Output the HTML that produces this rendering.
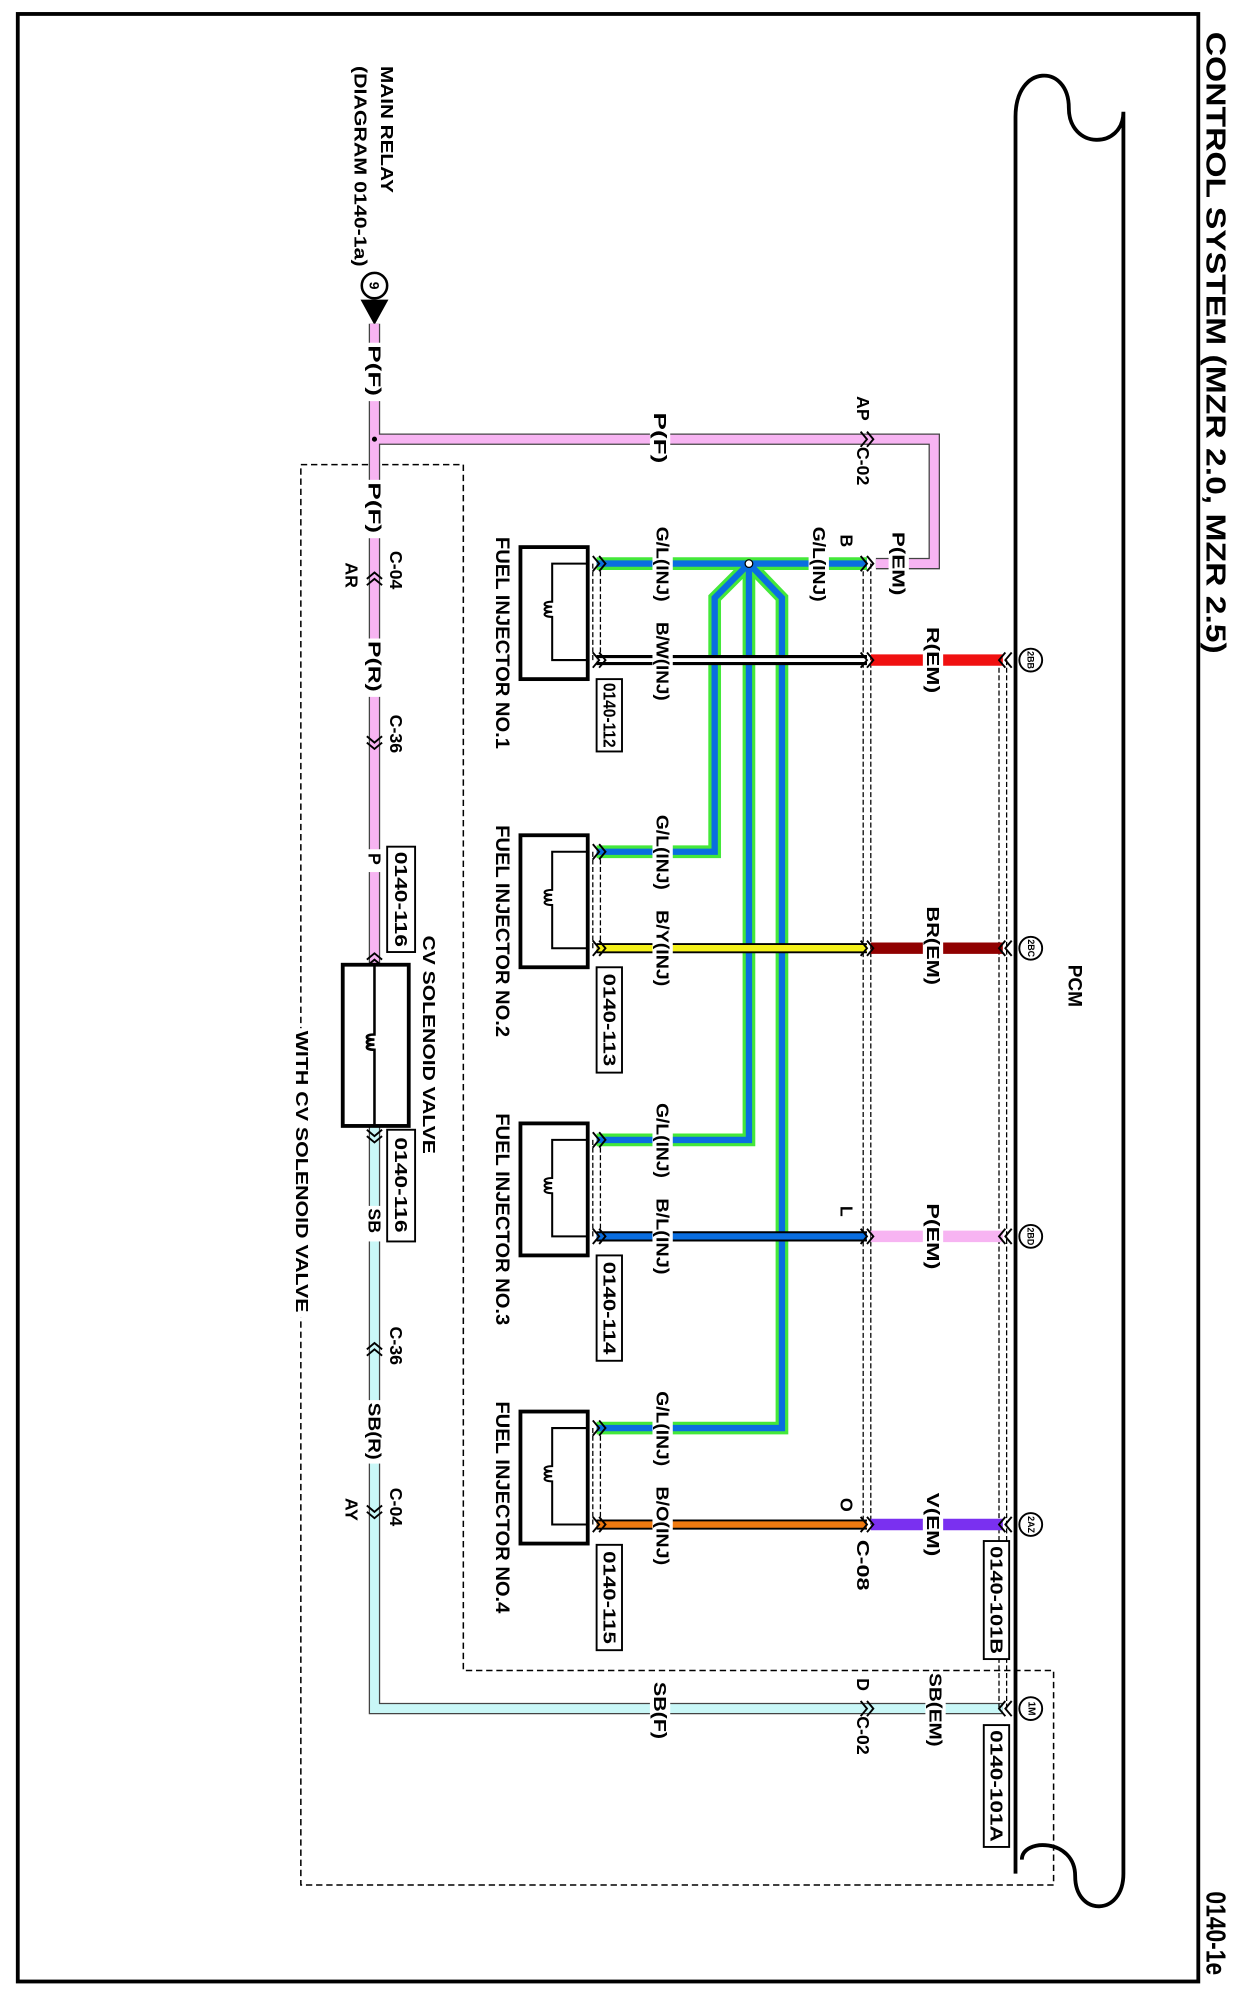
<!DOCTYPE html>
<html><head><meta charset="utf-8"><style>
html,body{margin:0;padding:0;background:#fff;}
svg{display:block;}
text{font-family:"Liberation Sans",Arial,sans-serif;font-weight:bold;fill:#000;dominant-baseline:central;}
</style></head><body>
<svg width="1244" height="1998" viewBox="0 0 980 1574" preserveAspectRatio="none" xmlns="http://www.w3.org/2000/svg">
<rect x="0" y="0" width="980" height="1574" fill="#fff"/>
<rect x="14" y="11" width="930" height="1550" fill="none" stroke="#000" stroke-width="3"/>
<text x="958" y="25" font-size="22" font-weight="normal" transform="rotate(90 958 25)" textLength="490" lengthAdjust="spacingAndGlyphs">CONTROL SYSTEM (MZR 2.0, MZR 2.5)</text>
<text x="958" y="1490" font-size="22" font-weight="normal" transform="rotate(90 958 1490)" textLength="66" lengthAdjust="spacingAndGlyphs">0140-1e</text>

<path d="M800,1476 L800,92 C800,50 842,50 842,85 C842,118 885,118 885,88 L885,1476 C885,1510 847,1510 847,1478 C847,1448 805,1448 805,1465" fill="none" stroke="#000" stroke-width="3"/>
<text x="846" y="760" font-size="15" transform="rotate(90 846 760)">PCM</text>

<path d="M237,366 L365,366 L365,1316 L830,1316 L830,1485 L237,1485 Z" fill="none" stroke="#000" stroke-width="1.2" stroke-dasharray="5,3"/>
<rect x="228" y="810" width="20" height="228" fill="#fff"/>
<text x="238" y="812" font-size="14" transform="rotate(90 238 812)" textLength="222" lengthAdjust="spacingAndGlyphs">WITH CV SOLENOID VALVE</text>

<text x="305" y="52" font-size="14" transform="rotate(90 305 52)" textLength="100" lengthAdjust="spacingAndGlyphs">MAIN RELAY</text>
<text x="284" y="52" font-size="14" transform="rotate(90 284 52)" textLength="158" lengthAdjust="spacingAndGlyphs">(DIAGRAM 0140-1a)</text>
<circle cx="295" cy="225" r="10" fill="#fff" stroke="#000" stroke-width="2"/>
<text x="295" y="225" font-size="11" text-anchor="middle" transform="rotate(90 295 225)">9</text>
<polygon points="284,236 306,236 295,256" fill="#000"/>

<g fill="none" stroke-linejoin="miter">
<path d="M295,255 L295,760 M295,346 L736,346 L736,444 L690,444" stroke="#444" stroke-width="9"/>
<path d="M295,255 L295,760 M295,346 L736,346 L736,444 L690,444" stroke="#f7b4f2" stroke-width="7"/>
<path d="M295,888 L295,1346 L790,1346" stroke="#444" stroke-width="9"/>
<path d="M295,888 L295,1346 L790,1346" stroke="#c9f7f7" stroke-width="7"/>
</g>
<circle cx="295" cy="346" r="2" fill="#000"/>

<g>
<rect x="288" y="270" width="14" height="46" fill="#fff"/>
<text x="295" y="272" font-size="14" transform="rotate(90 295 272)" textLength="40" lengthAdjust="spacingAndGlyphs">P(F)</text>
<rect x="512" y="338" width="16" height="16" fill="#fff"/>
<text x="520" y="325" font-size="14" transform="rotate(90 520 325)" textLength="40" lengthAdjust="spacingAndGlyphs">P(F)</text>
<text x="680" y="312" font-size="14" transform="rotate(90 680 312)">AP</text>
<text x="680" y="352" font-size="14" transform="rotate(90 680 352)">C-02</text>
<rect x="288" y="378" width="14" height="46" fill="#fff"/>
<text x="295" y="380" font-size="14" transform="rotate(90 295 380)" textLength="40" lengthAdjust="spacingAndGlyphs">P(F)</text>
<text x="312" y="434" font-size="14" transform="rotate(90 312 434)">C-04</text>
<text x="277" y="443" font-size="14" transform="rotate(90 277 443)">AR</text>
<rect x="288" y="503" width="14" height="46" fill="#fff"/>
<text x="295" y="505" font-size="14" transform="rotate(90 295 505)" textLength="40" lengthAdjust="spacingAndGlyphs">P(R)</text>
<text x="312" y="563" font-size="14" transform="rotate(90 312 563)">C-36</text>
<rect x="288" y="669" width="14" height="18" fill="#fff"/>
<text x="295" y="672" font-size="14" transform="rotate(90 295 672)">P</text>
<rect x="305" y="667" width="22" height="83" fill="#fff" stroke="#000" stroke-width="1.5"/>
<text x="316" y="671" font-size="14" transform="rotate(90 316 671)" textLength="75" lengthAdjust="spacingAndGlyphs">0140-116</text>
<text x="338" y="737" font-size="14" transform="rotate(90 338 737)" textLength="172" lengthAdjust="spacingAndGlyphs">CV SOLENOID VALVE</text>
<rect x="305" y="890" width="22" height="88" fill="#fff" stroke="#000" stroke-width="1.5"/>
<text x="316" y="896" font-size="14" transform="rotate(90 316 896)" textLength="75" lengthAdjust="spacingAndGlyphs">0140-116</text>
<rect x="288" y="950" width="14" height="28" fill="#fff"/>
<text x="295" y="952" font-size="14" transform="rotate(90 295 952)">SB</text>
<text x="312" y="1045" font-size="14" transform="rotate(90 312 1045)">C-36</text>
<rect x="288" y="1103" width="14" height="50" fill="#fff"/>
<text x="295" y="1105" font-size="14" transform="rotate(90 295 1105)" textLength="45" lengthAdjust="spacingAndGlyphs">SB(R)</text>
<text x="312" y="1172" font-size="14" transform="rotate(90 312 1172)">C-04</text>
<text x="277" y="1180" font-size="14" transform="rotate(90 277 1180)">AY</text>
<rect x="512" y="1338" width="16" height="16" fill="#fff"/>
<text x="520" y="1325" font-size="14" transform="rotate(90 520 1325)" textLength="45" lengthAdjust="spacingAndGlyphs">SB(F)</text>
<text x="680" y="1322" font-size="14" transform="rotate(90 680 1322)">D</text>
<text x="680" y="1352" font-size="14" transform="rotate(90 680 1352)">C-02</text>
<rect x="729" y="1338" width="16" height="16" fill="#fff"/>
<text x="737" y="1318" font-size="14" transform="rotate(90 737 1318)" textLength="58" lengthAdjust="spacingAndGlyphs">SB(EM)</text>
</g>

<g fill="none" stroke="#000" stroke-width="1.5">
<path d="M678,340 l5,6 l-5,6 M683,340 l5,6 l-5,6"/>
<path d="M678,1340 l5,6 l-5,6 M683,1340 l5,6 l-5,6"/>
<path d="M289,456 l6,-5 l6,5 M289,461 l6,-5 l6,5"/>
<path d="M289,580 l6,5 l6,-5 M289,585 l6,5 l6,-5"/>
<path d="M289,756 l6,-5 l6,5 M289,761 l6,-5 l6,5"/>
<path d="M289,890 l6,5 l6,-5 M289,895 l6,5 l6,-5"/>
<path d="M289,1063 l6,-5 l6,5 M289,1068 l6,-5 l6,5"/>
<path d="M289,1186 l6,5 l6,-5 M289,1191 l6,5 l6,-5"/>
<path d="M792,1340 l-5,6 l5,6 M797,1340 l-5,6 l5,6"/>
</g>

<rect x="270" y="760" width="52" height="127" fill="#fff" stroke="#000" stroke-width="3"/>
<path d="M295,760 L295,815 c-8,0 -8,4 0,4 c-8,0 -8,4 0,4 c-8,0 -8,4 0,4 L295,887" fill="none" stroke="#000" stroke-width="2"/>

<g stroke="#000" stroke-width="1" stroke-dasharray="4,2" fill="none">
<path d="M680,444 L680,1201 M686,444 L686,1201"/>
<path d="M787,520 L787,1346 M793,520 L793,1346"/>
<path d="M467,444 L467,520 M473,444 L473,520"/>
<path d="M467,671 L467,747 M473,671 L473,747"/>
<path d="M467,898 L467,974 M473,898 L473,974"/>
<path d="M467,1125 L467,1201 M473,1125 L473,1201"/>
</g>

<g fill="none" stroke-linejoin="miter">
<path d="M470,444 L683,444 M590,444 L563,471 L563,671 L470,671 M590,444 L590,898 L470,898 M590,444 L616,471 L616,1125 L470,1125" stroke="#44e83a" stroke-width="10"/>
<path d="M470,444 L683,444 M590,444 L563,471 L563,671 L470,671 M590,444 L590,898 L470,898 M590,444 L616,471 L616,1125 L470,1125" stroke="#0a6ee0" stroke-width="5"/>
</g>
<circle cx="590" cy="444" r="3" fill="#fff" stroke="#000" stroke-width="1"/>

<g fill="none">
<path d="M470,520 L683,520" stroke="#000" stroke-width="8"/>
<path d="M470,520 L683,520" stroke="#fff" stroke-width="3"/>
<path d="M470,747 L683,747" stroke="#000" stroke-width="8"/>
<path d="M470,747 L683,747" stroke="#f4f01a" stroke-width="5"/>
<path d="M470,974 L683,974" stroke="#000" stroke-width="8"/>
<path d="M470,974 L683,974" stroke="#0a6ee0" stroke-width="5"/>
<path d="M470,1201 L683,1201" stroke="#000" stroke-width="8"/>
<path d="M470,1201 L683,1201" stroke="#f07a10" stroke-width="5"/>
<path d="M686,520 L790,520" stroke="#f01010" stroke-width="9"/>
<path d="M686,747 L790,747" stroke="#900000" stroke-width="9"/>
<path d="M686,974 L790,974" stroke="#f7b4f2" stroke-width="9"/>
<path d="M686,1201 L790,1201" stroke="#7a30f0" stroke-width="9"/>
</g>
<g fill="#fff">
<rect x="514" y="436" width="16" height="16"/><rect x="637" y="436" width="16" height="16"/><rect x="700" y="436" width="16" height="16"/>
<rect x="514" y="512" width="16" height="16"/><rect x="727" y="512" width="16" height="16"/>
<rect x="514" y="663" width="16" height="16"/><rect x="514" y="739" width="16" height="16"/><rect x="727" y="739" width="16" height="16"/>
<rect x="514" y="890" width="16" height="16"/><rect x="514" y="966" width="16" height="16"/><rect x="727" y="966" width="16" height="16"/>
<rect x="514" y="1117" width="16" height="16"/><rect x="514" y="1193" width="16" height="16"/><rect x="727" y="1193" width="16" height="16"/>
</g>
<g font-size="14">
<text x="522" y="415" transform="rotate(90 522 415)" textLength="59" lengthAdjust="spacingAndGlyphs">G/L(INJ)</text>
<text x="645" y="415" transform="rotate(90 645 415)" textLength="59" lengthAdjust="spacingAndGlyphs">G/L(INJ)</text>
<text x="667" y="421" transform="rotate(90 667 421)">B</text>
<text x="708" y="419" transform="rotate(90 708 419)" textLength="50" lengthAdjust="spacingAndGlyphs">P(EM)</text>
<text x="522" y="490" transform="rotate(90 522 490)" textLength="62" lengthAdjust="spacingAndGlyphs">B/W(INJ)</text>
<text x="735" y="494" transform="rotate(90 735 494)" textLength="52" lengthAdjust="spacingAndGlyphs">R(EM)</text>
<text x="522" y="642" transform="rotate(90 522 642)" textLength="59" lengthAdjust="spacingAndGlyphs">G/L(INJ)</text>
<text x="522" y="717" transform="rotate(90 522 717)" textLength="60" lengthAdjust="spacingAndGlyphs">B/Y(INJ)</text>
<text x="735" y="714" transform="rotate(90 735 714)" textLength="62" lengthAdjust="spacingAndGlyphs">BR(EM)</text>
<text x="522" y="869" transform="rotate(90 522 869)" textLength="59" lengthAdjust="spacingAndGlyphs">G/L(INJ)</text>
<text x="522" y="944" transform="rotate(90 522 944)" textLength="60" lengthAdjust="spacingAndGlyphs">B/L(INJ)</text>
<text x="667" y="950" transform="rotate(90 667 950)">L</text>
<text x="735" y="948" transform="rotate(90 735 948)" textLength="52" lengthAdjust="spacingAndGlyphs">P(EM)</text>
<text x="522" y="1096" transform="rotate(90 522 1096)" textLength="59" lengthAdjust="spacingAndGlyphs">G/L(INJ)</text>
<text x="522" y="1171" transform="rotate(90 522 1171)" textLength="62" lengthAdjust="spacingAndGlyphs">B/O(INJ)</text>
<text x="667" y="1180" transform="rotate(90 667 1180)">O</text>
<text x="680" y="1213" transform="rotate(90 680 1213)" textLength="40" lengthAdjust="spacingAndGlyphs">C-08</text>
<text x="735" y="1176" transform="rotate(90 735 1176)" textLength="50" lengthAdjust="spacingAndGlyphs">V(EM)</text>
</g>

<g>
<rect x="410" y="431" width="53" height="104" fill="#fff" stroke="#000" stroke-width="3"/>
<path d="M463,444 L435,444 L435,474 c-8,0 -8,4 0,4 c-8,0 -8,4 0,4 c-8,0 -8,4 0,4 L435,520 L463,520" fill="none" stroke="#000" stroke-width="1.6"/>
<text x="395" y="423" font-size="15" transform="rotate(90 395 423)" textLength="167" lengthAdjust="spacingAndGlyphs">FUEL INJECTOR NO.1</text>
<rect x="470" y="535" width="20" height="57" fill="#fff" stroke="#000" stroke-width="1.5"/>
<text x="480" y="538" font-size="14" transform="rotate(90 480 538)" textLength="51" lengthAdjust="spacingAndGlyphs">0140-112</text>
<rect x="410" y="658" width="53" height="104" fill="#fff" stroke="#000" stroke-width="3"/>
<path d="M463,671 L435,671 L435,701 c-8,0 -8,4 0,4 c-8,0 -8,4 0,4 c-8,0 -8,4 0,4 L435,747 L463,747" fill="none" stroke="#000" stroke-width="1.6"/>
<text x="395" y="650" font-size="15" transform="rotate(90 395 650)" textLength="167" lengthAdjust="spacingAndGlyphs">FUEL INJECTOR NO.2</text>
<rect x="470" y="762" width="20" height="83" fill="#fff" stroke="#000" stroke-width="1.5"/>
<text x="480" y="767" font-size="14" transform="rotate(90 480 767)" textLength="73" lengthAdjust="spacingAndGlyphs">0140-113</text>
<rect x="410" y="885" width="53" height="104" fill="#fff" stroke="#000" stroke-width="3"/>
<path d="M463,898 L435,898 L435,928 c-8,0 -8,4 0,4 c-8,0 -8,4 0,4 c-8,0 -8,4 0,4 L435,974 L463,974" fill="none" stroke="#000" stroke-width="1.6"/>
<text x="395" y="877" font-size="15" transform="rotate(90 395 877)" textLength="167" lengthAdjust="spacingAndGlyphs">FUEL INJECTOR NO.3</text>
<rect x="470" y="989" width="20" height="83" fill="#fff" stroke="#000" stroke-width="1.5"/>
<text x="480" y="994" font-size="14" transform="rotate(90 480 994)" textLength="73" lengthAdjust="spacingAndGlyphs">0140-114</text>
<rect x="410" y="1112" width="53" height="104" fill="#fff" stroke="#000" stroke-width="3"/>
<path d="M463,1125 L435,1125 L435,1155 c-8,0 -8,4 0,4 c-8,0 -8,4 0,4 c-8,0 -8,4 0,4 L435,1201 L463,1201" fill="none" stroke="#000" stroke-width="1.6"/>
<text x="395" y="1104" font-size="15" transform="rotate(90 395 1104)" textLength="167" lengthAdjust="spacingAndGlyphs">FUEL INJECTOR NO.4</text>
<rect x="470" y="1217" width="20" height="83" fill="#fff" stroke="#000" stroke-width="1.5"/>
<text x="480" y="1222" font-size="14" transform="rotate(90 480 1222)" textLength="73" lengthAdjust="spacingAndGlyphs">0140-115</text>
</g>

<g fill="none" stroke="#000" stroke-width="1.5">
<path d="M467,438 l5,6 l-5,6 M472,438 l5,6 l-5,6"/><path d="M467,514 l5,6 l-5,6 M472,514 l5,6 l-5,6"/>
<path d="M467,665 l5,6 l-5,6 M472,665 l5,6 l-5,6"/><path d="M467,741 l5,6 l-5,6 M472,741 l5,6 l-5,6"/>
<path d="M467,892 l5,6 l-5,6 M472,892 l5,6 l-5,6"/><path d="M467,968 l5,6 l-5,6 M472,968 l5,6 l-5,6"/>
<path d="M467,1119 l5,6 l-5,6 M472,1119 l5,6 l-5,6"/><path d="M467,1195 l5,6 l-5,6 M472,1195 l5,6 l-5,6"/>
<path d="M678,438 l5,6 l-5,6 M683,438 l5,6 l-5,6"/><path d="M678,514 l5,6 l-5,6 M683,514 l5,6 l-5,6"/>
<path d="M678,741 l5,6 l-5,6 M683,741 l5,6 l-5,6"/><path d="M678,968 l5,6 l-5,6 M683,968 l5,6 l-5,6"/>
<path d="M678,1195 l5,6 l-5,6 M683,1195 l5,6 l-5,6"/>
<path d="M792,514 l-5,6 l5,6 M797,514 l-5,6 l5,6"/><path d="M792,741 l-5,6 l5,6 M797,741 l-5,6 l5,6"/>
<path d="M792,968 l-5,6 l5,6 M797,968 l-5,6 l5,6"/><path d="M792,1195 l-5,6 l5,6 M797,1195 l-5,6 l5,6"/>
</g>

<g>
<circle cx="812" cy="520" r="9" fill="#fff" stroke="#000" stroke-width="1.5"/>
<text x="812" y="520" font-size="7" text-anchor="middle" transform="rotate(90 812 520)">2BB</text>
<circle cx="812" cy="747" r="9" fill="#fff" stroke="#000" stroke-width="1.5"/>
<text x="812" y="747" font-size="7" text-anchor="middle" transform="rotate(90 812 747)">2BC</text>
<circle cx="812" cy="974" r="9" fill="#fff" stroke="#000" stroke-width="1.5"/>
<text x="812" y="974" font-size="7" text-anchor="middle" transform="rotate(90 812 974)">2BD</text>
<circle cx="812" cy="1201" r="9" fill="#fff" stroke="#000" stroke-width="1.5"/>
<text x="812" y="1201" font-size="7" text-anchor="middle" transform="rotate(90 812 1201)">2AZ</text>
<circle cx="812" cy="1346" r="9" fill="#fff" stroke="#000" stroke-width="1.5"/>
<text x="812" y="1346" font-size="8" text-anchor="middle" transform="rotate(90 812 1346)">1M</text>
<rect x="775" y="1214" width="20" height="93" fill="#fff" stroke="#000" stroke-width="1.5"/>
<text x="785" y="1218" font-size="14" transform="rotate(90 785 1218)" textLength="85" lengthAdjust="spacingAndGlyphs">0140-101B</text>
<rect x="775" y="1359" width="20" height="96" fill="#fff" stroke="#000" stroke-width="1.5"/>
<text x="785" y="1363" font-size="14" transform="rotate(90 785 1363)" textLength="88" lengthAdjust="spacingAndGlyphs">0140-101A</text>
</g>
</svg>
</body></html>
